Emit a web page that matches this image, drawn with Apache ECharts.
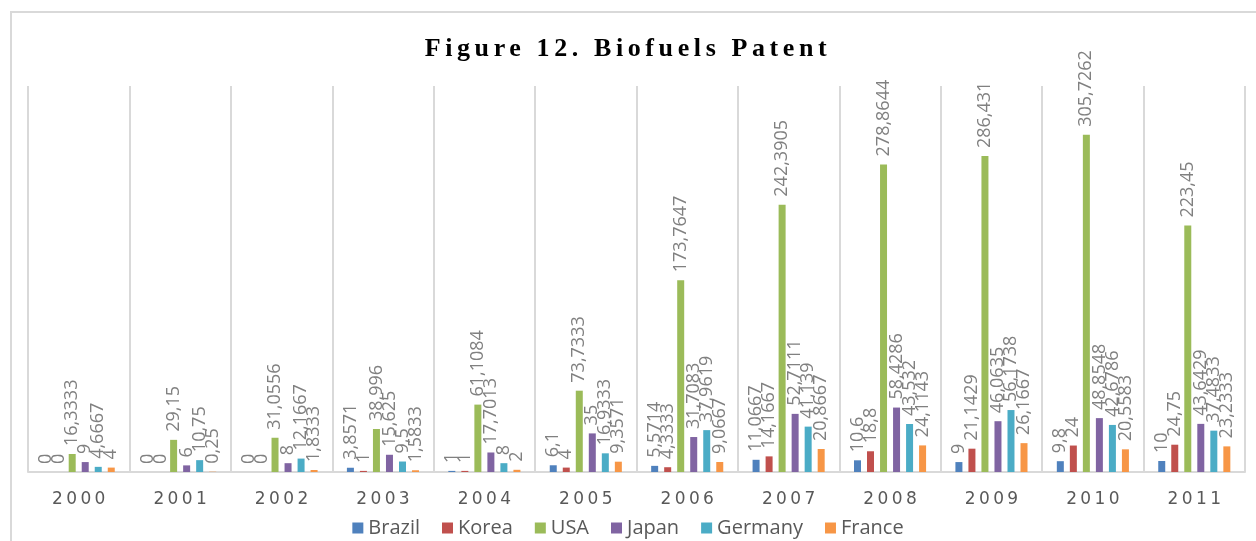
<!DOCTYPE html>
<html>
<head>
<meta charset="utf-8">
<script src="https://cdn.jsdelivr.net/npm/echarts@6/dist/echarts.min.js"></script>
<style>
  html, body { margin: 0; padding: 0; background: #fff; }
  #wrap { position: relative; width: 1256px; height: 541px; }
  #chart { width: 1256px; height: 541px; }
  #title {
    position: absolute; left: 0; top: 33px; width: 1256px; text-align: center;
    font-family: 'Liberation Serif', serif; font-weight: bold; font-size: 26px;
    letter-spacing: 4.6px; color: #000; pointer-events: none;
  }
</style>
</head>
<body>
<div id="wrap">
  <div id="chart"></div>
  <div id="title">Figure 12. Biofuels Patent</div>
</div>
<script>
  // values
  var years = ['2000', '2001', '2002', '2003', '2004', '2005', '2006', '2007', '2008', '2009', '2010', '2011']
  var names = ['Brazil', 'Korea', 'USA', 'Japan', 'Germany', 'France']
  var colors = ['#4f81bd', '#c0504d', '#9bbb59', '#8064a2', '#4bacc6', '#f79646']

  var brazil = [0, 0, 0, 3.8571, 1, 6.1, 5.5714, 11.0667, 10.6, 9, 9.8, 10]
  var korea = [0, 0, 0, 1, 1, 4, 4.3333, 14.1667, 18.8, 21.1429, 24, 24.75]
  var usa = [16.3333, 29.15, 31.0556, 38.996, 61.1084, 73.7333, 173.7647, 242.3905, 278.8644, 286.431, 305.7262, 223.45]
  var japan = [9, 6, 8, 15.625, 17.7013, 35, 31.7083, 52.7111, 58.4286, 46.0635, 48.8548, 43.6429]
  var germany = [4.6667, 10.75, 12.1667, 9.5, 8, 16.9333, 37.9619, 41.139, 43.532, 56.1738, 42.6786, 37.4833]
  var france = [4, 0.25, 1.8333, 1.5833, 2, 9.3571, 9.0667, 20.8667, 24.1143, 26.1667, 20.5583, 23.2333]

  var values = [brazil, korea, usa, japan, germany, france]

  var series = []
  for (var i = 0; i < names.length; i++) {
    series.push({
      name: names[i],
      type: 'bar',
      data: values[i],
      barWidth: 7,
      barGap: '86%',
      label: {
        show: true,
        position: 'top',
        rotate: 90,
        align: 'left',
        verticalAlign: 'middle',
        distance: 8,
        color: '#808080',
        fontFamily: 'Open Sans',
        fontSize: 18,
        formatter: function (p) {
          return String(p.value).replace('.', ',')
        }
      }
    })
  }

  var myChart = echarts.init(document.getElementById('chart'))
  myChart.setOption({
    color: colors,
    animation: false,
    grid: { left: 28, right: 11, top: 86, bottom: 69 },
    legend: {
      data: names,
      bottom: -2,
      left: 'center',
      icon: 'rect',
      itemWidth: 11,
      itemHeight: 11,
      itemGap: 22,
      textStyle: { color: '#595959', fontSize: 20, fontFamily: 'Open Sans' }
    },
    xAxis: {
      type: 'category',
      data: years,
      axisTick: { show: false },
      axisLine: { lineStyle: { color: '#d9d9d9', width: 2 } },
      splitLine: { show: true, lineStyle: { color: '#d9d9d9', width: 2 } },
      axisLabel: {
        color: '#595959',
        fontSize: 17,
        fontFamily: 'DejaVu Sans',
        margin: 19,
        formatter: function (v) { return v.split('').join('\u2009') }
      }
    },
    yAxis: {
      type: 'value',
      min: 0,
      max: 350,
      show: false,
      splitLine: { show: false }
    },
    graphic: [{
      type: 'rect',
      shape: { x: 11, y: 12, width: 1400, height: 700 },
      style: { fill: 'none', stroke: '#d9d9d9', lineWidth: 2 },
      silent: true
    }],
    series: series
  })
</script>
</body>
</html>
